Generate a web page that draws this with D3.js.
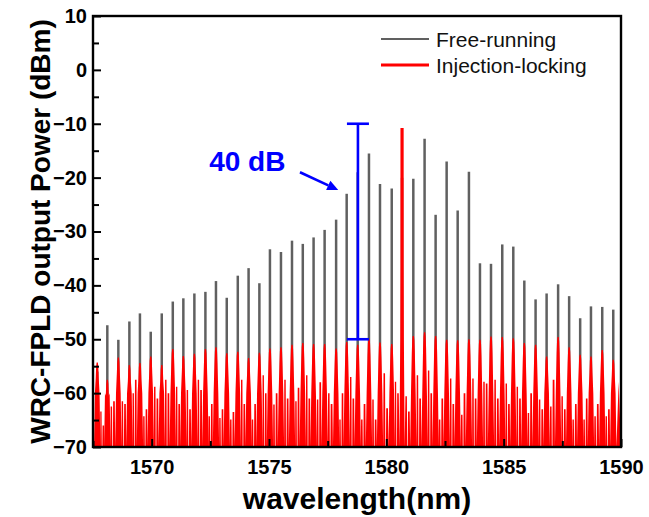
<!DOCTYPE html>
<html><head><meta charset="utf-8">
<script src="https://cdn.jsdelivr.net/npm/d3@7"></script>
<style>
html,body{margin:0;padding:0;background:#fff;}
svg{display:block;font-family:"Liberation Sans",Arial,Helvetica,sans-serif;}
</style></head><body>
<svg id="chart" width="649" height="517"></svg>
<script>
// ---------- data ----------
const wavelengthTicks = [1570, 1575, 1580, 1585, 1590];
const wavelengthMinorTicks = [1567.5, 1572.5, 1577.5, 1582.5, 1587.5];
const powerTicks = [10, 0, -10, -20, -30, -40, -50, -60, -70];
const powerMinorTicks = [5, -5, -15, -25, -35, -45, -55, -65];
const seriesNames = ["Free-running", "Injection-locking"];

// longitudinal mode wavelengths (nm)
const modeWavelength = [1567.68, 1568.11, 1568.58, 1569.05, 1569.50, 1569.96, 1570.43, 1570.90,
  1571.35, 1571.82, 1572.29, 1572.74, 1573.20, 1573.67, 1574.13, 1574.59, 1575.04, 1575.51,
  1575.98, 1576.44, 1576.90, 1577.37, 1577.86, 1578.31, 1578.78, 1579.26, 1579.73, 1580.23,
  1580.67, 1581.15, 1581.63, 1582.10, 1582.57, 1583.04, 1583.52, 1583.99, 1584.46, 1584.94,
  1585.41, 1585.88, 1586.36, 1586.83, 1587.32, 1587.79, 1588.26, 1588.72, 1589.20, 1589.67];

// free-running mode peak power (dBm)
const freeRunning = [-56, -47.4, -50.1, -46.7, -45.2, -48.6, -45.2, -43.0, -42.4, -41.5, -41.2,
  -39.2, -42.3, -38.2, -36.8, -39.6, -33.3, -33.8, -31.7, -32.3, -31.1, -29.7, -27.8, -23.0,
  -19.0, -15.5, -21.2, -22.0, -20.0, -20.2, -12.8, -26.9, -17.0, -26.1, -18.9, -35.9, -36.0,
  -32.4, -32.8, -39.1, -42.6, -41.5, -39.8, -42.0, -46.1, -43.9, -44.0, -44.5];

// injection-locked mode peak power (dBm)
const injectionLocking = [-54.3, -57.5, -53.4, -54.8, -54.4, -53.2, -54.8, -51.8, -53.1, -52.7,
  -51.8, -51.5, -52.6, -52.3, -53.5, -52.5, -51.7, -51.5, -51.0, -50.7, -50.9, -50.9, -51.7,
  -50.5, -51.0, -50.0, -50.6, -50.9, -10.8, -49.4, -48.7, -49.4, -50.1, -50.2, -50.0, -50.1,
  -49.5, -49.6, -49.8, -50.7, -51.0, -53.2, -49.6, -51.5, -52.9, -53.2, -52.0, -53.8];

// injection-locked spectrum between modes: two side-lobe levels per mode gap (dBm)
const lobeA = [-63.4, -62.5, -61.5, -60.0, -64.3, -58.8, -57.5, -58.8, -59.4, -57.5, -64.3,
  -64.6, -64.9, -57.5, -64.9, -56.7, -62.1, -57.5, -61.5, -56.7, -61.2, -60.0, -64.9, -57.0,
  -64.9, -61.2, -56.3, -57.9, -60.6, -56.7, -55.8, -64.9, -57.3, -64.0, -57.3, -57.9, -57.5,
  -58.2, -58.8, -63.7, -61.2, -62.5, -60.6, -64.9, -64.9, -64.3, -64.3];
const lobeB = [-66.0, -61.5, -62.0, -57.5, -63.0, -61.0, -60.0, -62.0, -63.0, -59.4, -62.0,
  -63.0, -63.5, -62.0, -62.0, -60.0, -60.0, -61.0, -59.0, -61.0, -58.0, -62.0, -60.0, -61.0,
  -62.0, -64.9, -62.8, -60.0, -63.4, -61.0, -60.0, -61.0, -62.0, -60.0, -61.0, -58.2, -61.0,
  -62.0, -61.0, -60.0, -63.0, -57.5, -63.0, -62.0, -61.0, -62.0, -63.0];
const edgeLevel = [-57.0, -57.9];   // spectrum level at the left / right window edges

// 40 dB annotation (data units)
const barWavelength = 1578.79;
const barRange = [-50, -10];
const annotationLabel = "40 dB";
const labelAnchor = [1572.45, -18.8];
const arrowFrom = [1576.32, -19.0];
const arrowTo = [1577.95, -22.3];

// ---------- chart ----------
const plot = {left: 93, right: 621, top: 16, bottom: 447};
const svg = d3.select("#chart");
const x = d3.scaleLinear().domain([1567.5, 1590]).range([plot.left, plot.right]);
const y = d3.scaleLinear().domain([-70, 10]).range([plot.bottom, plot.top]);

svg.append("defs").append("clipPath").attr("id", "clip")
  .append("rect").attr("x", plot.left).attr("y", plot.top)
  .attr("width", plot.right - plot.left).attr("height", plot.bottom - plot.top);

const gData = svg.append("g").attr("clip-path", "url(#clip)");

// free-running spectrum (gray spikes)
gData.append("g").selectAll("line").data(modeWavelength).join("line")
  .attr("x1", d => x(d)).attr("x2", d => x(d))
  .attr("y1", y(-70)).attr("y2", (d, i) => y(freeRunning[i]))
  .attr("stroke", "#606060").attr("stroke-width", 2.5);

// injection-locking spectrum (red)
const trace = [[1567.5, edgeLevel[0]]];
modeWavelength.forEach((w, i) => {
  const p = injectionLocking[i];
  const shape = p > -30
    ? [[-0.11, -70], [-0.095, -60], [-0.078, -50], [-0.07, -36], [-0.068, p]]
    : [[-0.135, -70], [-0.1, -60], [-0.065, p - 3], [-0.047, p - 0.8], [-0.027, p]];
  shape.forEach(([d, v]) => trace.push([w + d, v]));
  shape.slice().reverse().forEach(([d, v]) => trace.push([w - d, v]));
  if (i < modeWavelength.length - 1) {
    const g = modeWavelength[i + 1] - w, a = lobeA[i], b = lobeB[i];
    trace.push([w + 0.30 * g, a], [w + 0.43 * g, a], [w + 0.455 * g, -70], [w + 0.505 * g, -70],
               [w + 0.53 * g, b], [w + 0.68 * g, b]);
  }
});
trace.push([1589.9, edgeLevel[1]], [1590, -70]);

gData.append("path").datum(trace)
  .attr("d", d3.area().x(d => x(d[0])).y0(y(-70)).y1(d => y(d[1])))
  .attr("fill", "#ff0000");

// 40 dB bar
const gAnn = svg.append("g");
const bx = x(barWavelength);
gAnn.append("line").attr("x1", bx).attr("x2", bx).attr("y1", y(barRange[0])).attr("y2", y(barRange[1]))
  .attr("stroke", "#0000ff").attr("stroke-width", 2.6);
barRange.forEach(v => gAnn.append("line").attr("x1", bx - 11).attr("x2", bx + 11)
  .attr("y1", y(v)).attr("y2", y(v)).attr("stroke", "#0000ff").attr("stroke-width", 2.6));
gAnn.append("text").attr("x", x(labelAnchor[0])).attr("y", y(labelAnchor[1]))
  .attr("font-size", 28).attr("font-weight", "bold").attr("fill", "#0000ff").text(annotationLabel);
{
  const x1 = x(arrowFrom[0]), y1 = y(arrowFrom[1]), x2 = x(arrowTo[0]), y2 = y(arrowTo[1]);
  const ang = Math.atan2(y2 - y1, x2 - x1), L = 11, Wd = 5;
  const bxh = x2 - L * Math.cos(ang), byh = y2 - L * Math.sin(ang);
  gAnn.append("line").attr("x1", x1).attr("y1", y1).attr("x2", bxh).attr("y2", byh)
    .attr("stroke", "#0000ff").attr("stroke-width", 2.6);
  gAnn.append("path").attr("fill", "#0000ff")
    .attr("d", `M${x2},${y2}L${bxh + Wd * Math.sin(ang)},${byh - Wd * Math.cos(ang)}L${bxh - Wd * Math.sin(ang)},${byh + Wd * Math.cos(ang)}Z`);
}

// axes
const gx = svg.append("g").attr("transform", `translate(0,${plot.bottom})`)
  .call(d3.axisBottom(x).tickValues(wavelengthTicks).tickSize(-8).tickPadding(13).tickFormat(d3.format("d")));
svg.append("g").attr("transform", `translate(0,${plot.bottom})`)
  .call(d3.axisBottom(x).tickValues(wavelengthMinorTicks).tickSize(-6).tickFormat(""));
const gy = svg.append("g").attr("transform", `translate(${plot.left},0)`)
  .call(d3.axisLeft(y).tickValues(powerTicks).tickSize(-8).tickPadding(6).tickFormat(d3.format("d")));
svg.append("g").attr("transform", `translate(${plot.left},0)`)
  .call(d3.axisLeft(y).tickValues(powerMinorTicks).tickSize(-6).tickFormat(""));
svg.selectAll(".domain").remove();
svg.selectAll(".tick line").attr("stroke", "#000").attr("stroke-width", 2);
[gx, gy].forEach(g => g.selectAll("text").attr("font-size", 20).attr("font-weight", "bold")
  .attr("fill", "#000").attr("font-family", '"Liberation Sans",Arial,sans-serif'));

svg.append("rect").attr("x", plot.left).attr("y", plot.top)
  .attr("width", plot.right - plot.left).attr("height", plot.bottom - plot.top)
  .attr("fill", "none").attr("stroke", "#000").attr("stroke-width", 2.4);

// titles
svg.append("text").attr("x", (plot.left + plot.right) / 2).attr("y", 509)
  .attr("text-anchor", "middle").attr("font-size", 30).attr("font-weight", "bold")
  .text("wavelength(nm)");
svg.append("text").attr("transform", `translate(50,${(plot.top + plot.bottom) / 2}) rotate(-90)`)
  .attr("text-anchor", "middle").attr("font-size", 28).attr("font-weight", "bold")
  .text("WRC-FPLD output Power (dBm)");

// legend
const legendColors = ["#606060", "#ff0000"];
const legendWidths = [2, 3];
const leg = svg.append("g");
seriesNames.forEach((name, i) => {
  const ly = 39 + i * 26;
  leg.append("line").attr("x1", 381).attr("x2", 429).attr("y1", ly).attr("y2", ly)
    .attr("stroke", legendColors[i]).attr("stroke-width", legendWidths[i]);
  leg.append("text").attr("x", 436).attr("y", ly + 7.5).attr("font-size", 21)
    .attr("fill", "#111").text(name);
});
</script>
</body></html>
